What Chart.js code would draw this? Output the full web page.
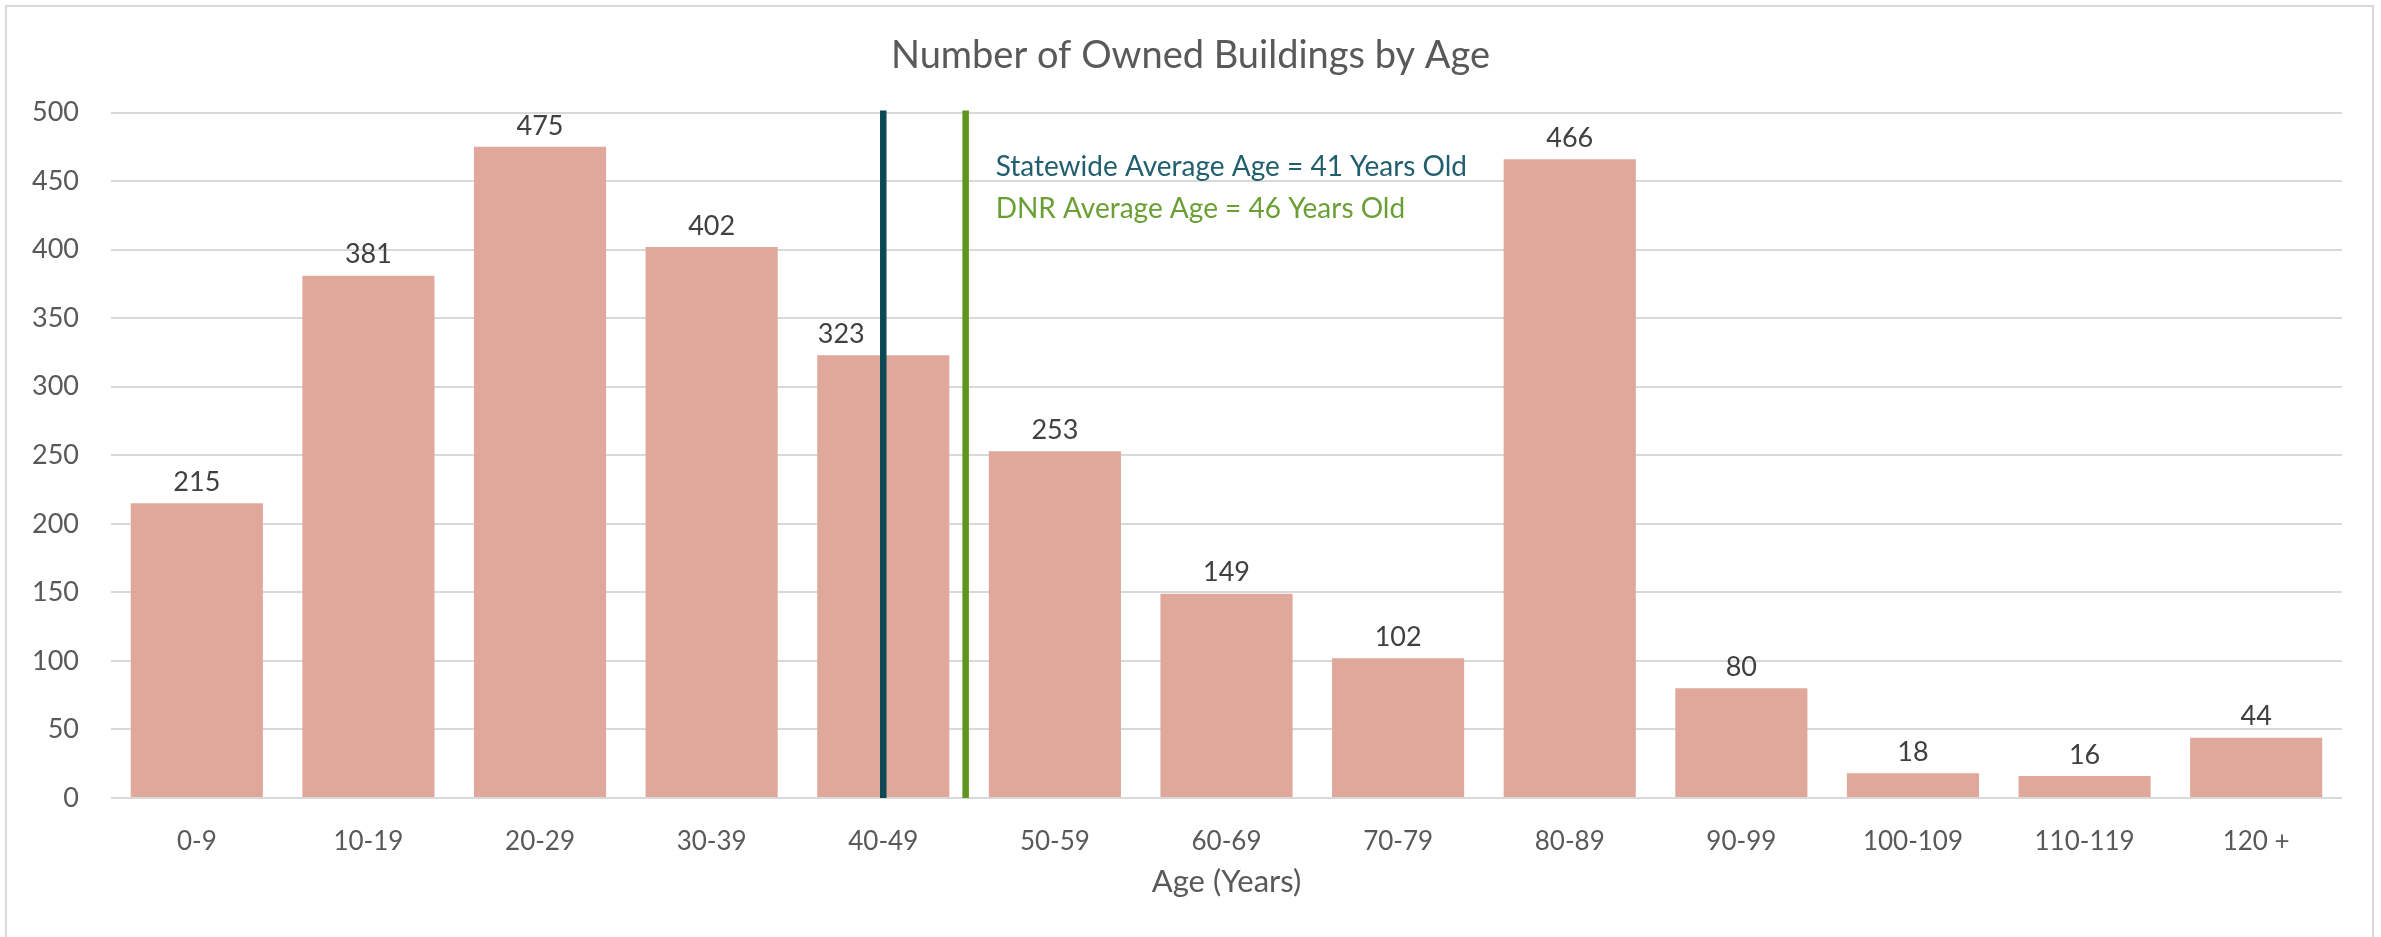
<!DOCTYPE html>
<html>
<head>
<meta charset="utf-8">
<title>Number of Owned Buildings by Age</title>
<script src="https://cdn.jsdelivr.net/npm/chart.js@4/dist/chart.umd.min.js"></script>
<style>
  html, body { margin: 0; padding: 0; background: #fff; overflow: hidden; }
  #wrap { position: relative; width: 2381px; height: 937px; }
  #frame { position: absolute; left: 5px; top: 5px; width: 2365px; height: 1000px;
           border: 2px solid #d9d9d9; pointer-events: none; }
</style>
</head>
<body>
<div id="wrap">
  <canvas id="ageChart"></canvas>
  <div id="frame"></div>
</div>
<script>
const ageGroups = ["0-9", "10-19", "20-29", "30-39", "40-49", "50-59", "60-69",
  "70-79", "80-89", "90-99", "100-109", "110-119", "120 +"];
const buildingCounts = [215, 381, 475, 402, 323, 253, 149, 102, 466, 80, 18, 16, 44];

// average markers, in category units (0 = centre of "0-9")
const averageMarkers = [
  { label: "Statewide Average Age = 41 Years Old", position: 4.0, color: "#0d4855", textColor: "#225f6e" },
  { label: "DNR Average Age = 46 Years Old", position: 4.48, color: "#5e941f", textColor: "#6a9f33" }
];

const FONT = "Lato, 'Liberation Sans', sans-serif";

const barLabels = {
  id: "barLabels",
  afterDatasetsDraw(chart) {
    const ctx = chart.ctx;
    const meta = chart.getDatasetMeta(0);
    ctx.save();
    ctx.font = "27px " + FONT;
    ctx.fillStyle = "#404040";
    ctx.textAlign = "center";
    ctx.textBaseline = "middle";
    meta.data.forEach((bar, i) => {
      // the 40-49 label is nudged left so the statewide line doesn't cross it
      const dx = i === 4 ? -42 : 0;
      ctx.fillText(buildingCounts[i], bar.x + dx, bar.y - 21);
    });
    ctx.restore();
  }
};

const averageLines = {
  id: "averageLines",
  afterDatasetsDraw(chart) {
    const ctx = chart.ctx;
    const xs = chart.scales.x, ys = chart.scales.y;
    const top = ys.getPixelForValue(500) - 2;
    const bottom = ys.getPixelForValue(0);
    ctx.save();
    averageMarkers.forEach(m => {
      const x = xs.getPixelForValue(m.position);
      ctx.beginPath();
      ctx.strokeStyle = m.color;
      ctx.lineWidth = 6.5;
      ctx.moveTo(x, top);
      ctx.lineTo(x, bottom);
      ctx.stroke();
    });
    // text sits to the right of the DNR line
    const textX = xs.getPixelForValue(averageMarkers[1].position) + 30;
    ctx.font = "28px " + FONT;
    ctx.textAlign = "left";
    ctx.textBaseline = "middle";
    averageMarkers.forEach((m, i) => {
      ctx.fillStyle = m.textColor;
      ctx.fillText(m.label, textX, chart.chartArea.top + 54 + i * 42);
    });
    ctx.restore();
  }
};

new Chart(document.getElementById("ageChart"), {
  type: "bar",
  data: {
    labels: ageGroups,
    datasets: [{
      label: "Buildings",
      data: buildingCounts,
      backgroundColor: "#e0a89b",
      barPercentage: 0.77,
      categoryPercentage: 1.0
    }]
  },
  options: {
    responsive: true,
    maintainAspectRatio: false,
    animation: false,
    layout: { padding: 0 },
    plugins: {
      legend: { display: false },
      tooltip: { enabled: false },
      title: {
        display: true,
        text: "Number of Owned Buildings by Age",
        color: "#595959",
        font: { family: FONT, size: 38, weight: "normal" },
        padding: { top: 33, bottom: 34 }
      }
    },
    scales: {
      x: {
        grid: { display: false, drawTicks: false },
        border: { display: false },
        ticks: { color: "#595959", font: { family: FONT, size: 26 }, padding: 28, maxRotation: 0 },
        title: {
          display: true,
          text: "Age (Years)",
          color: "#595959",
          font: { family: FONT, size: 31 },
          padding: { top: 0, bottom: 36 }
        },
        afterFit: scale => { scale.height = 139; }
      },
      y: {
        min: 0,
        max: 500,
        ticks: { stepSize: 50, color: "#595959", font: { family: FONT, size: 27 }, padding: 32 },
        grid: { color: "#d9d9d9", lineWidth: 2, drawTicks: false },
        border: { display: false },
        afterFit: scale => { scale.width = 111; }
      },
      // empty right-hand axis: just keeps the right margin so the title stays centred on the page
      yRight: {
        position: "right",
        ticks: { display: false },
        grid: { display: false, drawTicks: false },
        border: { display: false },
        afterFit: scale => { scale.width = 39; }
      }
    }
  },
  plugins: [barLabels, averageLines]
});
</script>
</body>
</html>
